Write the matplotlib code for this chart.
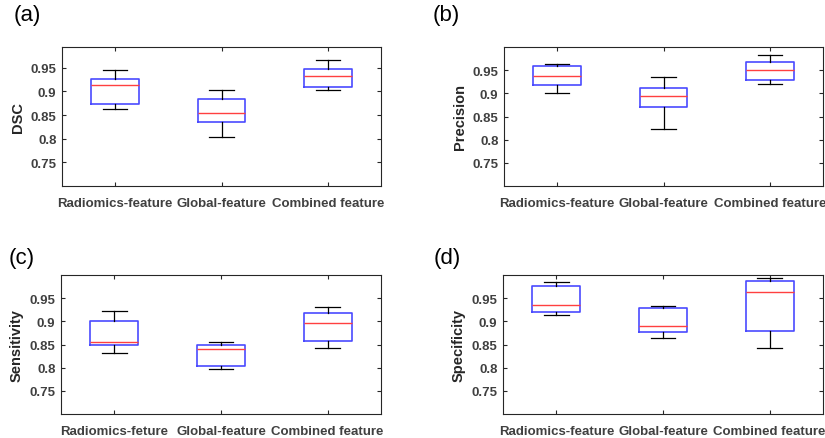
import matplotlib
matplotlib.use("Agg")
import matplotlib.pyplot as plt
from matplotlib.ticker import FixedLocator, FormatStrFormatter

plt.rcParams["font.family"] = ["Liberation Sans", "DejaVu Sans"]

# whisker low, Q1, median, Q3, whisker high
dsc_stats = [
    [0.862, 0.874, 0.913, 0.927, 0.946],
    [0.804, 0.836, 0.855, 0.884, 0.902],
    [0.903, 0.909, 0.932, 0.948, 0.966],
]
precision_stats = [
    [0.900, 0.918, 0.938, 0.960, 0.963],
    [0.823, 0.871, 0.895, 0.912, 0.935],
    [0.920, 0.929, 0.951, 0.968, 0.982],
]
sensitivity_stats = [
    [0.831, 0.850, 0.856, 0.901, 0.923],
    [0.798, 0.803, 0.840, 0.850, 0.856],
    [0.842, 0.857, 0.897, 0.917, 0.930],
]
specificity_stats = [
    [0.914, 0.920, 0.936, 0.976, 0.985],
    [0.865, 0.876, 0.890, 0.928, 0.933],
    [0.842, 0.879, 0.963, 0.988, 0.993],
]

labels_std = ["Radiomics-feature", "Global-feature", "Combined feature"]
labels_c = ["Radiomics-feture", "Global-feature", "Combined feature"]
y_ticks = [0.75, 0.8, 0.85, 0.9, 0.95]

panels = [
    ("(a)", "DSC", dsc_stats, labels_std, (0.70, 0.994)),
    ("(b)", "Precision", precision_stats, labels_std, (0.70, 1.0)),
    ("(c)", "Sensitivity", sensitivity_stats, labels_c, (0.70, 1.0)),
    ("(d)", "Specificity", specificity_stats, labels_std, (0.70, 1.0)),
]

W, H = 825, 439
# axes boxes in pixels: left, top, right, bottom
boxes_px = [(62, 48, 381, 187), (504, 48, 823, 187), (61, 276, 381, 415), (503, 276, 823, 415)]
letter_px = [(14, 16), (433, 16), (9, 259), (434, 259)]

fig = plt.figure(figsize=(W / 100, H / 100), dpi=100)
fig.patch.set_facecolor("white")

gray = "#404040"
for (tag, ylab, stats, xlabels, ylim), (l, t, r, b), (lx, ly) in zip(panels, boxes_px, letter_px):
    ax = fig.add_axes([l / W, 1 - b / H, (r - l) / W, (b - t) / H])
    bxp_stats = []
    for lo, q1, med, q3, hi in stats:
        bxp_stats.append({"whislo": lo, "q1": q1, "med": med, "q3": q3, "whishi": hi, "fliers": []})
    ax.bxp(
        bxp_stats,
        positions=[1, 2, 3],
        widths=0.45,
        showfliers=False,
        boxprops=dict(color="#4a4aff", linewidth=1.2),
        medianprops=dict(color="#ff4040", linewidth=1.0),
        whiskerprops=dict(color="black", linewidth=0.9),
        capprops=dict(color="black", linewidth=0.9),
        capwidths=0.23,
    )
    ax.set_xlim(0.5, 3.5)
    ax.set_ylim(*ylim)
    ax.set_xticks([1, 2, 3])
    ax.set_xticklabels(xlabels, fontsize=9.5, fontweight="bold", color=gray)
    ax.yaxis.set_major_locator(FixedLocator(y_ticks))
    ax.yaxis.set_major_formatter(FormatStrFormatter("%g"))
    for lbl in ax.get_yticklabels():
        lbl.set_fontsize(9.5)
        lbl.set_fontweight("bold")
        lbl.set_color(gray)
    ax.tick_params(direction="in", length=3, width=0.8, color="#262626",
                   top=True, right=True)
    ax.tick_params(axis="x", pad=8)
    ax.tick_params(axis="y", pad=4)
    for s in ax.spines.values():
        s.set_color("#262626")
        s.set_linewidth(0.8)
    ax.set_ylabel(ylab, fontsize=10.5, fontweight="bold", color="#262626", labelpad=4)
    fig.text(lx / W, 1 - ly / H, tag, fontsize=16, va="center", ha="left", color="black")

fig.savefig("out.png", dpi=100)
